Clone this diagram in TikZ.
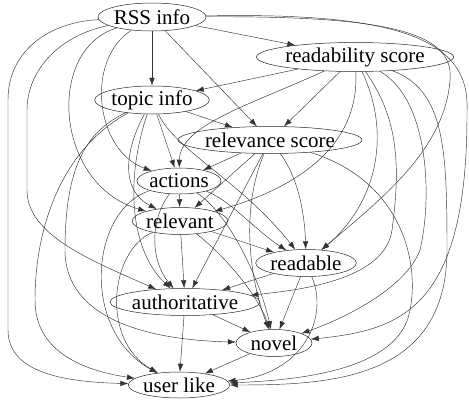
\documentclass[tikz,border=0pt]{standalone}
\usepackage{fontspec}
\setmainfont{Liberation Serif}
\newfontfamily\gvfont{Liberation Serif}
\usetikzlibrary{shapes.geometric,arrows.meta}

\begin{document}
\begin{tikzpicture}[x=1pt,y=-1pt,
      var/.style={draw=black!85,ellipse,inner sep=0pt,line width=0.5pt,
                  font=\gvfont\fontsize{21}{24}\selectfont},
      dep/.style={draw=black!80,line width=0.45pt,-{Latex[length=8pt,width=5.5pt]}}]
      \useasboundingbox (0,0) rectangle (469,400);
      \node [var,minimum width=103,minimum height=28] (rss)      at (152,17)  {RSS info};
      \node [var,minimum width=168,minimum height=29] (rdscore)  at (355,57)  {readability score};
      \node [var,minimum width=108,minimum height=28] (topic)    at (152,100) {topic info};
      \node [var,minimum width=155,minimum height=27] (relscore) at (270,140) {relevance score};
      \node [var,minimum width=84,minimum height=26]  (actions)  at (179,181) {actions};
      \node [var,minimum width=90,minimum height=27]  (relevant) at (180,221) {relevant};
      \node [var,minimum width=98,minimum height=27]  (readable) at (306,263) {readable};
      \node [var,minimum width=146,minimum height=27] (auth)     at (185,302) {authoritative};
      \node [var,minimum width=76,minimum height=27]  (novel)    at (274,343) {novel};
      \node [var,minimum width=99,minimum height=26]  (ulike)    at (179,385) {user like};
      \draw [dep] (rss) -- (rdscore);
      \draw [dep] (rss) -- (topic);
      \draw [dep] (rss) -- (relscore);
      \draw [dep] (rss) .. controls (85,60) and (95,150) .. (actions);
      \draw [dep] (rss) .. controls (45,50) and (55,185) .. (relevant);
      \draw [dep] (rss) .. controls (60,35) and (27,70) .. (27,110) -- (27,190) .. controls (27,235) and (90,260) .. (auth);
      \draw [dep] (rss) .. controls (50,22) and (8,50) .. (8,100) -- (8,330) .. controls (8,375) and (70,382) .. (ulike);
      \draw [dep] (rss) .. controls (380,16) and (455,30) .. (450,80) .. controls (445,150) and (380,200) .. (readable);
      \draw [dep] (rss) .. controls (400,12) and (470,40) .. (467,110) .. controls (468,310) and (400,330) .. (novel);
      \draw [dep] (rdscore) -- (topic);
      \draw [dep] (rdscore) -- (relscore);
      \draw [dep] (rdscore) .. controls (250,105) and (180,125) .. (actions);
      \draw [dep] (rdscore) .. controls (360,150) and (290,190) .. (relevant);
      \draw [dep] (rdscore) .. controls (390,130) and (380,200) .. (readable);
      \draw [dep] (rdscore) .. controls (400,120) and (400,170) .. (392,230) .. controls (385,280) and (300,290) .. (auth);
      \draw [dep] (rdscore) .. controls (430,100) and (432,200) .. (420,250) .. controls (405,290) and (340,320) .. (novel);
      \draw [dep] (rdscore) .. controls (445,90) and (447,150) .. (447,250) .. controls (447,380) and (330,385) .. (ulike);
      \draw [dep] (topic) -- (relscore);
      \draw [dep] (topic) -- (actions);
      \draw [dep] (topic) .. controls (125,150) and (120,190) .. (relevant);
      \draw [dep] (topic) .. controls (175,150) and (240,180) .. (readable);
      \draw [dep] (topic) .. controls (125,180) and (130,250) .. (auth);
      \draw [dep] (topic) .. controls (90,130) and (65,160) .. (65,250) .. controls (65,320) and (150,340) .. (novel);
      \draw [dep] (topic) .. controls (60,150) and (35,230) .. (35,300) .. controls (35,350) and (80,370) .. (ulike);
      \draw [dep] (relscore) -- (actions);
      \draw [dep] (relscore) -- (relevant);
      \draw [dep] (relscore) .. controls (300,180) and (305,220) .. (readable);
      \draw [dep] (relscore) -- (auth);
      \draw [dep] (relscore) .. controls (240,210) and (250,280) .. (novel);
      \draw [dep] (relscore) .. controls (400,180) and (420,260) .. (410,310) .. controls (400,370) and (300,380) .. (ulike);
      \draw [dep] (actions) -- (relevant);
      \draw [dep] (actions) .. controls (230,200) and (255,230) .. (readable);
      \draw [dep] (actions) .. controls (150,220) and (150,260) .. (auth);
      \draw [dep] (actions) .. controls (230,215) and (260,280) .. (novel);
      \draw [dep] (actions) .. controls (90,210) and (80,330) .. (ulike);
      \draw [dep] (relevant) -- (readable);
      \draw [dep] (relevant) -- (auth);
      \draw [dep] (relevant) .. controls (230,260) and (260,300) .. (novel);
      \draw [dep] (relevant) .. controls (110,250) and (100,340) .. (ulike);
      \draw [dep] (readable) -- (auth);
      \draw [dep] (readable) -- (novel);
      \draw [dep] (readable) .. controls (330,320) and (300,375) .. (ulike);
      \draw [dep] (auth) -- (novel);
      \draw [dep] (auth) -- (ulike);
      \draw [dep] (novel) -- (ulike);
\end{tikzpicture}
\end{document}
